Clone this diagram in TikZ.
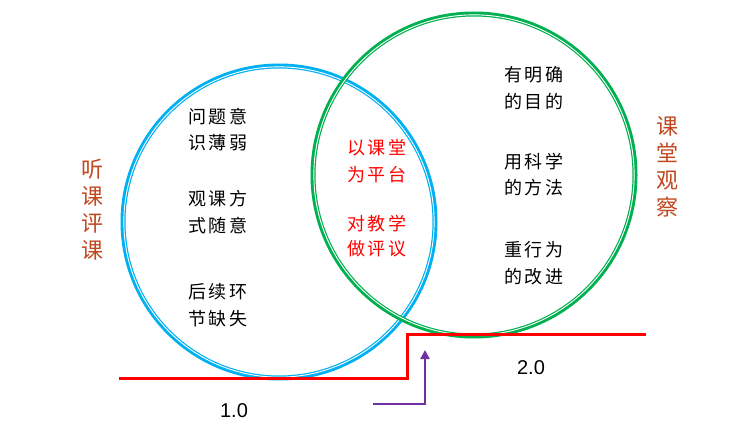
\documentclass[tikz,border=0pt]{standalone}
\usepackage{fontspec}
\setmainfont{Liberation Sans}
\newfontfamily\cjk{Noto Sans CJK SC}[LetterSpace=14]
\newfontfamily\cjkb{Noto Sans CJK SC}
\usetikzlibrary{arrows.meta}
\definecolor{cblue}{RGB}{0,176,240}
\definecolor{cgreen}{RGB}{0,176,80}
\definecolor{cred}{RGB}{255,0,0}
\definecolor{cpurple}{RGB}{112,48,160}
\definecolor{cbrown}{RGB}{192,70,30}
\tikzset{
  ringout/.style={line width=5pt},
  ringgap/.style={draw=white,line width=0.9pt},
  txt/.style={inner sep=0pt,font=\cjk\fontsize{18pt}{18pt}\selectfont,text=black},
  redtxt/.style={txt,text=cred},
  side/.style={inner sep=0pt,font=\cjkb\fontsize{22pt}{22pt}\selectfont,text=cbrown},
  num/.style={inner sep=0pt,font=\fontsize{20pt}{20pt}\selectfont},
  stepline/.style={draw=cred,line width=3pt},
  parrow/.style={draw=cpurple,line width=2.6pt,-{Triangle[length=9pt,width=9pt]}}
}
\begin{document}
\begin{tikzpicture}[x=1pt,y=-1pt]
\useasboundingbox (0,0) rectangle (750,433);
% circles
\draw[cblue,ringout] (279,222) circle[radius=156pt];
\draw[ringgap] (279,222) circle[radius=155.15pt];
\draw[cgreen,ringout] (474,175) circle[radius=161pt];
\draw[ringgap] (474,175) circle[radius=160.15pt];
% red step line
\coordinate (r0) at (119,378);
\coordinate (r1) at (407,378);
\coordinate (r2) at (407,334);
\coordinate (r3) at (646,334);
\draw[stepline] (r0) -- (r1) -- (r2) -- (r3);
% purple arrow
\coordinate (p0) at (373,404);
\coordinate (p1) at (425,404);
\coordinate (p2) at (425,350);
\draw[parrow] (p0) -- (p1) -- (p2);
% left texts
\node[txt] (l1a) at (218,117) {问题意};
\node[txt] (l1b) at (218,143) {识薄弱};
\node[txt] (l2a) at (218,199) {观课方};
\node[txt] (l2b) at (218,226) {式随意};
\node[txt] (l3a) at (218,292) {后续环};
\node[txt] (l3b) at (218,319) {节缺失};
% middle
\node[redtxt] (m1a) at (377,148) {以课堂};
\node[redtxt] (m1b) at (377,175) {为平台};
\node[redtxt] (m2a) at (377,224) {对教学};
\node[redtxt] (m2b) at (377,249) {做评议};
% right
\node[txt] (r1a) at (534,75) {有明确};
\node[txt] (r1b) at (534,102) {的目的};
\node[txt] (r2a) at (534,162) {用科学};
\node[txt] (r2b) at (534,188) {的方法};
\node[txt] (r3a) at (534,250) {重行为};
\node[txt] (r3b) at (534,277) {的改进};
% side labels
\node[side,align=center] (lt) at (92,210) {听\\[5pt]课\\[5pt]评\\[5pt]课};
\node[side,align=center] (rt) at (667,167) {课\\[5pt]堂\\[5pt]观\\[5pt]察};
% numbers
\node[num] (n1) at (234,411) {1.0};
\node[num] (n2) at (531,368) {2.0};
\end{tikzpicture}
\end{document}
